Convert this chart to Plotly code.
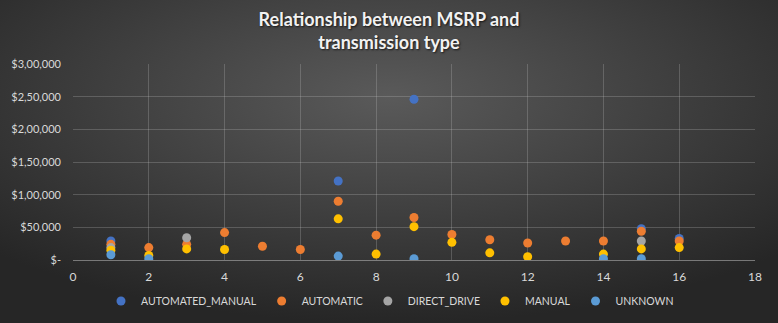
import plotly.graph_objects as go
import urllib.parse

# ---- data ----
am_x = [1, 7, 9, 15, 16]
am_y = [29000, 121000, 246000, 48000, 33000]

auto_x = [1, 2, 3, 4, 5, 6, 7, 8, 9, 10, 11, 12, 13, 14, 15, 16]
auto_y = [24000, 19000, 24000, 42000, 21000, 16000, 90000, 38000, 65000, 39000, 31000, 26000, 29000, 29000, 44000, 29000]

dd_x = [1, 3, 15]
dd_y = [19000, 34000, 29000]

man_x = [1, 2, 3, 4, 7, 8, 9, 10, 11, 12, 14, 15, 16]
man_y = [15000, 7000, 17000, 16000, 63000, 9000, 51000, 27000, 11000, 5000, 9000, 17000, 19000]

unk_x = [1, 2, 7, 9, 14, 15]
unk_y = [8000, 2000, 6000, 2000, 2000, 2000]

series = [
    ("AUTOMATED_MANUAL", am_x, am_y, "#4472C4"),
    ("AUTOMATIC", auto_x, auto_y, "#ED7D31"),
    ("DIRECT_DRIVE", dd_x, dd_y, "#A5A5A5"),
    ("MANUAL", man_x, man_y, "#FFC000"),
    ("UNKNOWN", unk_x, unk_y, "#5B9BD5"),
]

y_tickvals = [0, 50000, 100000, 150000, 200000, 250000, 300000]
y_ticktext = ["$-", "$50,000", "$1,00,000", "$1,50,000", "$2,00,000", "$2,50,000", "$3,00,000"]
x_tickvals = [0, 2, 4, 6, 8, 10, 12, 14, 16, 18]

W, H = 778, 323
ML, MR, MT, MB = 73, 23, 64, 63
PW, PH = W - ML - MR, H - MT - MB

fig = go.Figure()
for name, xs, ys, col in series:
    fig.add_trace(go.Scatter(
        x=xs, y=ys, mode="markers", name=name,
        marker=dict(size=9, color=col, line=dict(width=0)),
    ))

svg = (
    "<svg xmlns='http://www.w3.org/2000/svg' width='778' height='323' viewBox='0 0 778 323' preserveAspectRatio='none'>"
    "<defs><radialGradient id='g' cx='50%' cy='30%' r='70%'>"
    "<stop offset='0%' stop-color='#5a5a5a'/>"
    "<stop offset='100%' stop-color='#262626'/>"
    "</radialGradient></defs>"
    "<rect width='778' height='323' fill='url(#g)'/></svg>"
)
src = "data:image/svg+xml;charset=utf-8," + urllib.parse.quote(svg)

fig.add_layout_image(dict(
    source=src, xref="paper", yref="paper",
    x=-ML / PW, y=1 + MT / PH, sizex=W / PW, sizey=H / PH,
    xanchor="left", yanchor="top", sizing="stretch", layer="below", opacity=1,
))

font_fam = "Lato, 'Open Sans', sans-serif"
fig.update_layout(
    width=W, height=H,
    margin=dict(l=ML, r=MR, t=MT, b=MB, autoexpand=False),
    paper_bgcolor="#404040",
    plot_bgcolor="rgba(0,0,0,0)",
    title=dict(
        text="<b>Relationship between MSRP and<br>transmission type</b>",
        x=0.5, xref="container", xanchor="center", y=0.92, yanchor="top",
        font=dict(family=font_fam, size=18, color="#f2f2f2",
                  shadow="1px 1px 2px rgba(0,0,0,0.7)"),
    ),
    font=dict(family=font_fam, size=11, color="#d9d9d9"),
    xaxis=dict(
        range=[0, 18], tickvals=x_tickvals, showgrid=True,
        gridcolor="rgba(200,200,200,0.25)", gridwidth=1, zeroline=False,
        showline=True, linecolor="rgba(200,200,200,0.5)", linewidth=1,
        ticks="", ticklabelstandoff=6, tickfont=dict(size=12, color="#d9d9d9"),
    ),
    yaxis=dict(
        range=[0, 300000], tickvals=y_tickvals, ticktext=y_ticktext,
        showgrid=True, gridcolor="rgba(200,200,200,0.25)", gridwidth=1,
        zeroline=False, showline=False, ticks="", ticklabelstandoff=11,
        tickfont=dict(size=11, color="#d9d9d9"),
    ),
    legend=dict(
        orientation="h", x=(390 - ML) / PW, xanchor="center",
        y=-41 / PH, yanchor="middle",
        font=dict(size=10.5, color="#d9d9d9"), bgcolor="rgba(0,0,0,0)",
        itemwidth=30, tracegroupgap=0,
    ),
    showlegend=True,
)

fig.write_html("out.html")
